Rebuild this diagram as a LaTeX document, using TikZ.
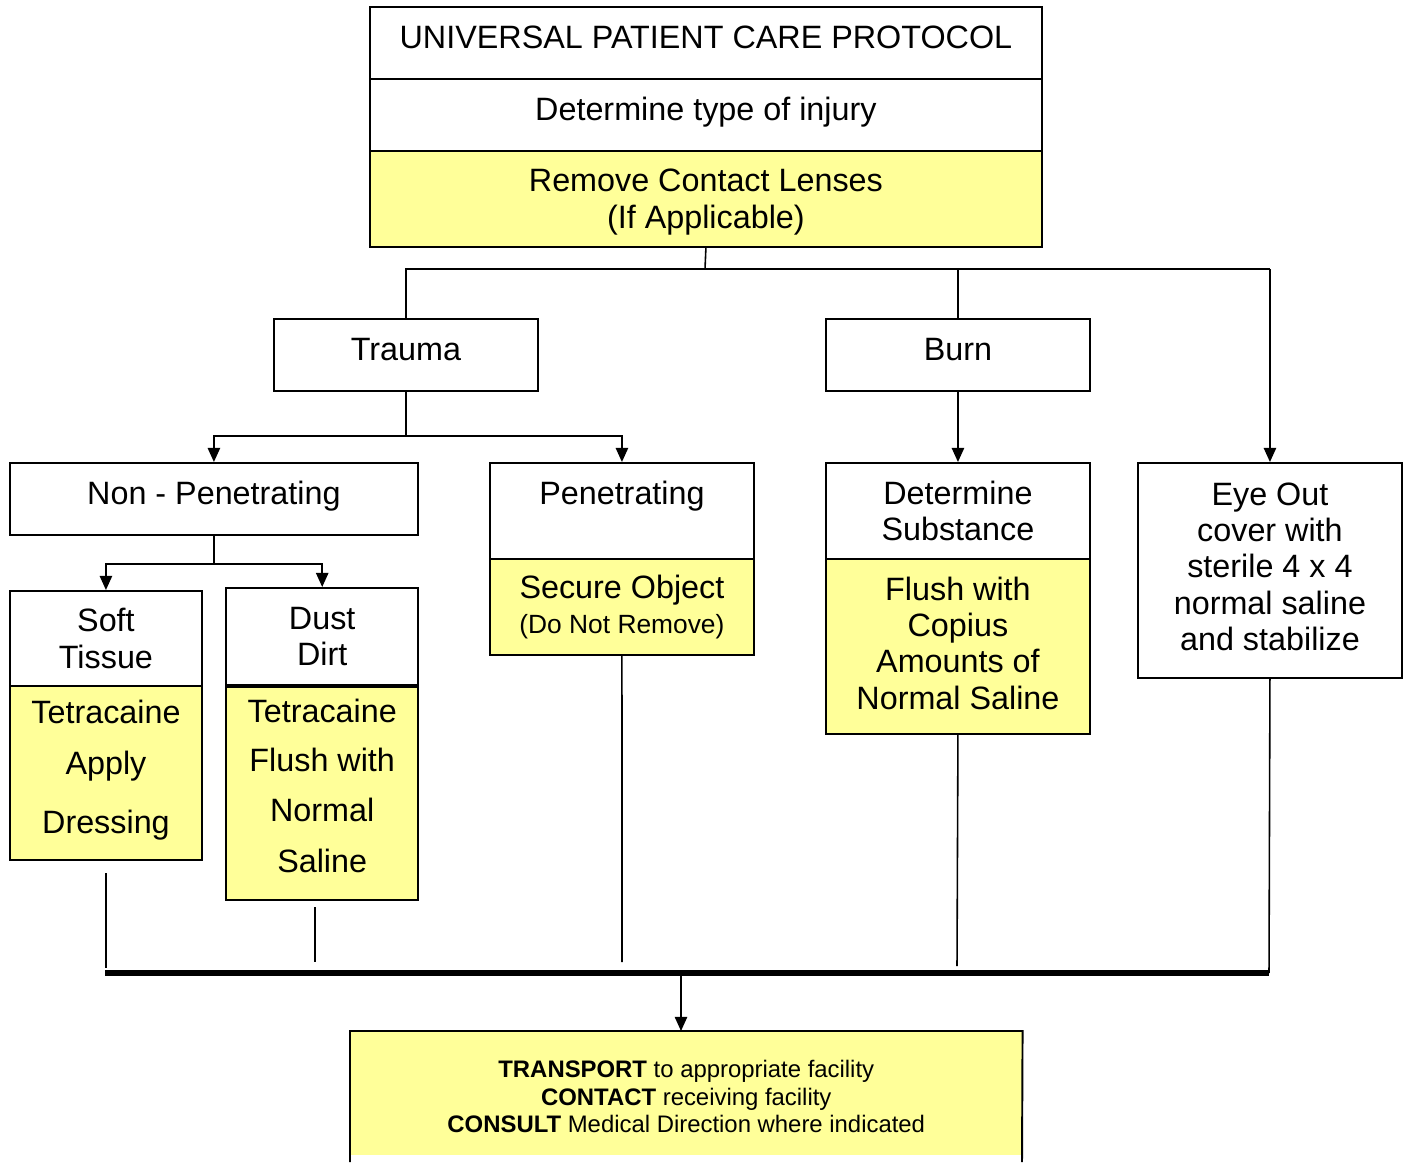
\documentclass[tikz,border=0pt]{standalone}
\usepackage{fontspec}
\setmainfont{Liberation Sans}
\usetikzlibrary{arrows.meta,calc}
\definecolor{paleyellow}{RGB}{255,255,153}
\begin{document}
\begin{tikzpicture}[x=0.02cm,y=-0.02cm,
  box/.style={draw=black,line width=1.1pt,anchor=north west,inner sep=0pt,align=center,
    font=\fontsize{18.4}{20.7}\selectfont},
  ybox/.style={box,fill=paleyellow},
  oneline/.style={text height=10.4pt,text depth=3.6pt},
  conn/.style={line width=0.9pt},
  arr/.style={conn,-{Triangle[width=7pt,length=8pt]}}]
\useasboundingbox (0,0) rectangle (1408,1162);
% top
\node[box,oneline,minimum width=13.44cm,minimum height=1.44cm] (univ) at (369,6) {UNIVERSAL PATIENT CARE PROTOCOL};
\node[box,oneline,minimum width=13.44cm,minimum height=1.44cm] (inj) at (369,78) {Determine type of injury};
\node[ybox,minimum width=13.44cm,minimum height=1.92cm] (lens) at (369,150) {Remove Contact Lenses\\(If Applicable)\\[-20.5pt]};
% second level
\node[box,oneline,minimum width=5.28cm,minimum height=1.44cm] (trauma) at (273,318) {Trauma};
\node[box,oneline,minimum width=5.28cm,minimum height=1.44cm] (burn) at (825,318) {Burn};
% third level
\node[box,oneline,minimum width=8.16cm,minimum height=1.44cm] (nonpen) at (9,462) {Non - Penetrating};
\node[box,minimum width=5.28cm,minimum height=1.92cm] (pen) at (489,462) {Penetrating\\ \mbox{}};
\node[ybox,minimum width=5.28cm,minimum height=1.92cm] (secure) at (489,558) {Secure Object\\[-1pt]{\fontsize{15}{18}\selectfont (Do Not Remove)}};
\node[box,minimum width=5.28cm,minimum height=1.92cm] (subst) at (825,462) {Determine\\Substance};
\node[ybox,minimum width=5.28cm,minimum height=3.5cm] (flush) at (825,558) {Flush with\\Copius\\Amounts of\\Normal Saline\\[-16.7pt]};
\node[box,minimum width=5.28cm,minimum height=4.3cm] (eye) at (1137,462) {Eye Out\\cover with\\sterile 4 x 4\\normal saline\\and stabilize\\[-16.2pt]};
% fourth level
\node[box,minimum width=3.84cm,minimum height=1.9cm] (soft) at (9,590) {Soft\\Tissue};
\node[ybox,minimum width=3.84cm,minimum height=3.48cm] (tetra1) at (9,685) {Tetracaine\\[8.3pt]Apply\\[12.8pt]Dressing\\[-13.9pt]};
\node[box,line width=1.4pt,minimum width=3.84cm,minimum height=1.94cm] (dust) at (225,587) {Dust\\Dirt};
\node[ybox,line width=1.4pt,minimum width=3.84cm,minimum height=4.26cm] (tetra2) at (225,686) {Tetracaine\\[7.2pt]Flush with\\[8pt]Normal\\[8.4pt]Saline\\[-11.7pt]};
% bottom box
\node[anchor=north west,fill=paleyellow,inner sep=0pt,minimum width=13.44cm,minimum height=2.48cm,align=center,
  font=\fontsize{13.6}{15.6}\selectfont] (transport) at (350,1031)
  {\textbf{TRANSPORT} to appropriate facility\\\textbf{CONTACT} receiving facility\\\textbf{CONSULT} Medical Direction where indicated\\[-19pt]};
\coordinate (tbl) at (350,1162);
\coordinate (tbr) at (1022,1162);
\draw[line width=1.1pt] (tbl) -- (transport.north west) -- (transport.north east) -- (tbr);
% connectors top
\coordinate (hub) at (705,269);
\draw[conn] (lens.south) -- (hub);
\draw[conn] (trauma.north) -- (trauma.north |- hub) -- (eye.north |- hub);
\draw[conn] (burn.north) -- (burn.north |- hub);
\draw[arr] (eye.north |- hub) -- (eye.north);
\draw[arr] (burn.south) -- (subst.north);
% trauma split
\coordinate (tsplit) at (407,436);
\draw[conn] (trauma.south) -- (trauma.south |- tsplit);
\draw[arr] (trauma.south |- tsplit) -| (nonpen.north);
\draw[arr] (trauma.south |- tsplit) -| (pen.north);
% non-penetrating split
\coordinate (nsplit) at (215,564);
\draw[conn] (nonpen.south) -- (nonpen.south |- nsplit);
\draw[arr] (nonpen.south |- nsplit) -| (soft.north);
\draw[arr] (nonpen.south |- nsplit) -| (dust.north);
% bottom collector
\coordinate (barL) at (105,973);
\coordinate (barR) at (1269,973);
\coordinate (s1) at (106,873);
\coordinate (s1e) at (106,968);
\coordinate (s2) at (315,907);
\coordinate (s2e) at (315,962);
\coordinate (s3e) at (622,962);
\coordinate (s4e) at (957,966);
\draw[conn] (s1) -- (s1e);
\draw[conn] (s2) -- (s2e);
\draw[conn] (secure.south) -- (s3e);
\draw[conn] (flush.south) -- (s4e);
\draw[conn] (eye.south) -- (barR);
\draw[line width=3pt] (barL) -- (barR);
\coordinate (drop) at (681,975);
\draw[arr] (drop) -- (drop |- transport.north);
\end{tikzpicture}
\end{document}
